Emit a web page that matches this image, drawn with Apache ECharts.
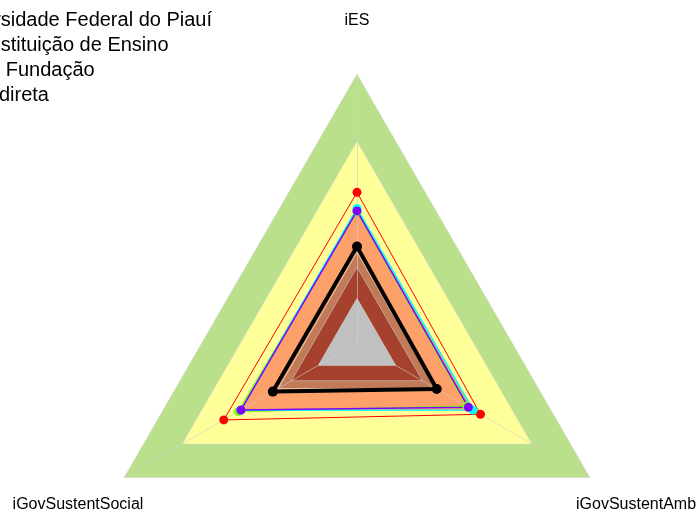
<!DOCTYPE html>
<html>
<head>
<meta charset="utf-8">
<script src="https://cdn.jsdelivr.net/npm/echarts@6/dist/echarts.min.js"></script>
<style>
  html, body { margin: 0; padding: 0; background: #ffffff; }
  #chart { width: 699px; height: 512px; }
</style>
</head>
<body>
<div id="chart"></div>
<script>
// ---- data ----
var indicators = ['iES', 'iGovSustentSocial', 'iGovSustentAmb'];
var seriesNames = ['Universidade Federal do Piauí', 'Instituição de Ensino', 'Adm. Indireta - Fundação', 'Adm. Indireta'];
var valuesUFPI      = [0.561, 0.573, 0.531];
var valuesEnsino    = [0.490, 0.511, 0.472];
var valuesFundacao  = [0.501, 0.500, 0.499];
var valuesIndireta  = [0.492, 0.499, 0.479];
var valuesReference = [0.359, 0.362, 0.343];
var bandLevels = [1.0, 0.75, 0.5, 0.335, 0.28, 0.165];

// ---- styles ----
var bandColors = ['#bbe08c', '#ffff99', '#fda06a', '#c27b58', '#a5412c', '#c0c0c0'];
var seriesColors = ['#ff0000', '#80ff00', '#00ffff', '#8000ff'];
var FONT = '"Liberation Sans", Arial, sans-serif';

var chart = echarts.init(document.getElementById('chart'), null, { renderer: 'canvas' });

var series = [];
bandLevels.forEach(function (lv, i) {
  series.push({
    type: 'radar',
    z: 1,
    silent: true,
    symbol: 'none',
    lineStyle: { color: '#d8d8d8', width: 1 },
    areaStyle: { color: bandColors[i], opacity: 1 },
    data: [{ value: indicators.map(function () { return lv; }) }]
  });
});

var dataSets = [valuesUFPI, valuesEnsino, valuesFundacao, valuesIndireta];
dataSets.forEach(function (vals, i) {
  series.push({
    type: 'radar',
    name: seriesNames[i],
    z: 3,
    symbol: 'circle',
    symbolSize: 9,
    itemStyle: { color: seriesColors[i] },
    lineStyle: { color: seriesColors[i], width: i === 0 ? 1 : 1.5 },
    data: [{ name: seriesNames[i], value: vals }]
  });
});
series.push({
  type: 'radar',
  name: 'Referência',
  z: 4,
  symbol: 'circle',
  symbolSize: 10,
  itemStyle: { color: '#000000' },
  lineStyle: { color: '#000000', width: 4 },
  data: [{ value: valuesReference }]
});

var legendTextStarts = [-57, -16, -131, -70];
var legendCenters = [20, 45, 70, 95];
var legends = seriesNames.map(function (n, i) {
  return {
    data: [n],
    left: legendTextStarts[i] - 30,
    top: legendCenters[i] - 12,
    padding: 0,
    itemWidth: 25,
    itemHeight: 14,
    itemGap: 0,
    selectedMode: false,
    textStyle: { color: '#000000', fontSize: 20, fontFamily: FONT, lineHeight: 24 }
  };
});

chart.setOption({
  animation: false,
  backgroundColor: '#ffffff',
  legend: legends,
  radar: {
    z: 2,
    center: [357, 343],
    radius: 268.5,
    startAngle: 90,
    shape: 'polygon',
    nameGap: 53.7,
    indicator: indicators.map(function (n) { return { name: n, min: 0, max: 1 }; }),
    axisName: { color: '#000000', fontSize: 16, fontFamily: FONT, align: 'center', verticalAlign: 'middle' },
    splitNumber: 4,
    splitLine: { show: false },
    splitArea: { show: false },
    axisLine: { show: true, lineStyle: { color: 'rgba(205,205,205,0.6)', width: 1 } },
    axisTick: { show: false },
    axisLabel: { show: false }
  },
  series: series
});
</script>
</body>
</html>
